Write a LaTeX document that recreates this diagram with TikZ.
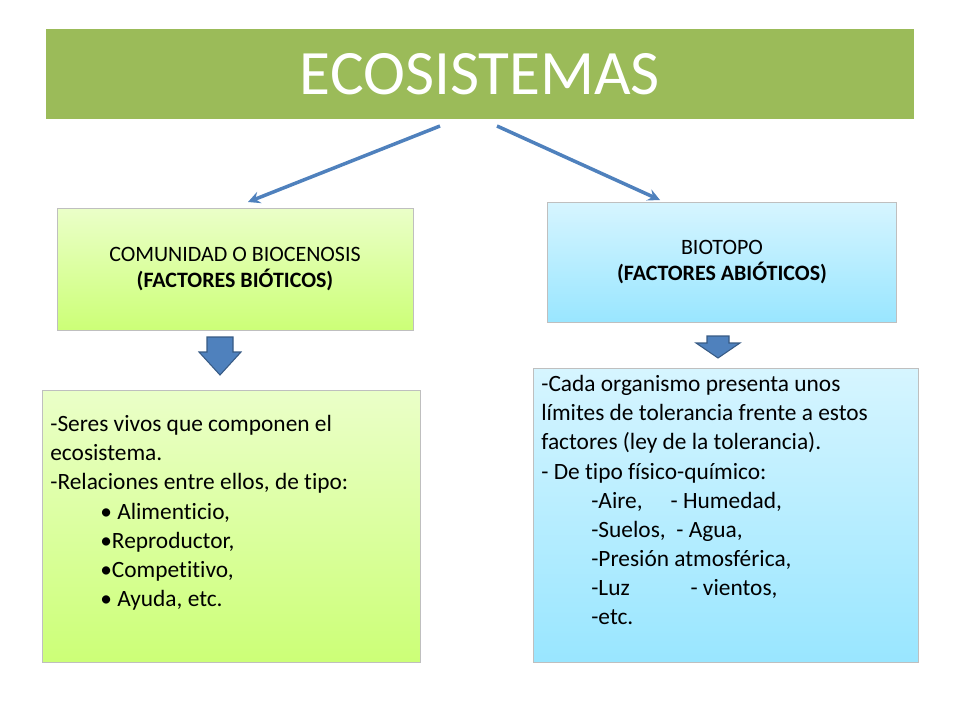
\documentclass[tikz,border=0pt]{standalone}
\usepackage{fontspec}
\setmainfont[Ligatures={NoCommon}]{Carlito}
\usetikzlibrary{positioning}
\definecolor{titlegreen}{HTML}{9BBB59}
\definecolor{arrowblue}{HTML}{4F81BD}
\definecolor{limegreen}{HTML}{CCFF77}
\definecolor{skyblue}{HTML}{99E6FF}
\tikzset{
  greenbox/.style={draw=black!25, top color=white!60!limegreen, bottom color=limegreen, minimum width=7.12cm, align=center, font=\fontsize{12.5}{15}\selectfont},
  bluebox/.style={draw=black!25, top color=white!60!skyblue, bottom color=skyblue, minimum width=6.98cm, align=center, font=\fontsize{12.5}{15}\selectfont},
  listbox/.style={anchor=north west, align=left, font=\fontsize{13.3}{16.6}\selectfont, inner sep=0pt},
  link/.style={->, arrowblue, line width=2pt, >=stealth},
  blockarrow/.style={fill=arrowblue, draw=arrowblue!70!black, line width=0.6pt}
}
\begin{document}
\begin{tikzpicture}[x=0.02cm,y=-0.02cm]
  \useasboundingbox (0,0) rectangle (960,720);
  % Title
  \node[fill=titlegreen, draw=white, line width=1.5pt, minimum width=17.4cm, minimum height=1.84cm,
        text=white, font=\fontsize{36}{40}\selectfont] (title) at (480,74) {ECOSISTEMAS};
  % Factor boxes
  \node[greenbox, minimum height=2.44cm] (bio) at (235,269) {COMUNIDAD O BIOCENOSIS\\\textbf{(FACTORES BIÓTICOS)}};
  \node[bluebox, minimum height=2.4cm] (abio) at (722,262) {BIOTOPO\\\textbf{(FACTORES ABIÓTICOS)}};
  \coordinate (t1) at (440,126);
  \coordinate (t2) at (497,126);
  \coordinate (b1) at (248,202);
  \coordinate (b2) at (660,200);
  \draw[link] (t1) -- (b1);
  \draw[link] (t2) -- (b2);
  % Block arrows
  \draw[blockarrow] (207,337) -- (233,337) -- (233,352) -- (241,352) -- (220,375) -- (199,352) -- (207,352) -- cycle;
  \draw[blockarrow] (707,336) -- (729,336) -- (729,343) -- (740,343) -- (718,358) -- (696,343) -- (707,343) -- cycle;
  % Lower boxes
  \node[greenbox, minimum width=7.56cm, minimum height=5.44cm] (bioinfo) at (231,526) {};
  \node[bluebox, minimum width=7.7cm, minimum height=5.88cm] (abioinfo) at (725.5,515) {};
  \node[listbox] (biotext) at (50,415) {-Seres vivos que componen el\\ecosistema.\\
    -Relaciones entre ellos, de tipo:\\
    \hspace*{1.0cm}\textbullet\ Alimenticio,\\
    \hspace*{1.0cm}\textbullet Reproductor,\\
    \hspace*{1.0cm}\textbullet Competitivo,\\
    \hspace*{1.0cm}\textbullet\ Ayuda, etc.};
  \node[listbox] (abiotext) at (541,375) {-Cada organismo presenta unos\\límites de tolerancia frente a estos\\factores (ley de la tolerancia).\\
    - De tipo físico-químico:\\
    \hspace*{1.0cm}-Aire,\hspace{1.2em}- Humedad,\\
    \hspace*{1.0cm}-Suelos,\ \ - Agua,\\
    \hspace*{1.0cm}-Presión atmosférica,\\
    \hspace*{1.0cm}-Luz\hspace{2.6em}- vientos,\\
    \hspace*{1.0cm}-etc.};
\end{tikzpicture}
\end{document}
